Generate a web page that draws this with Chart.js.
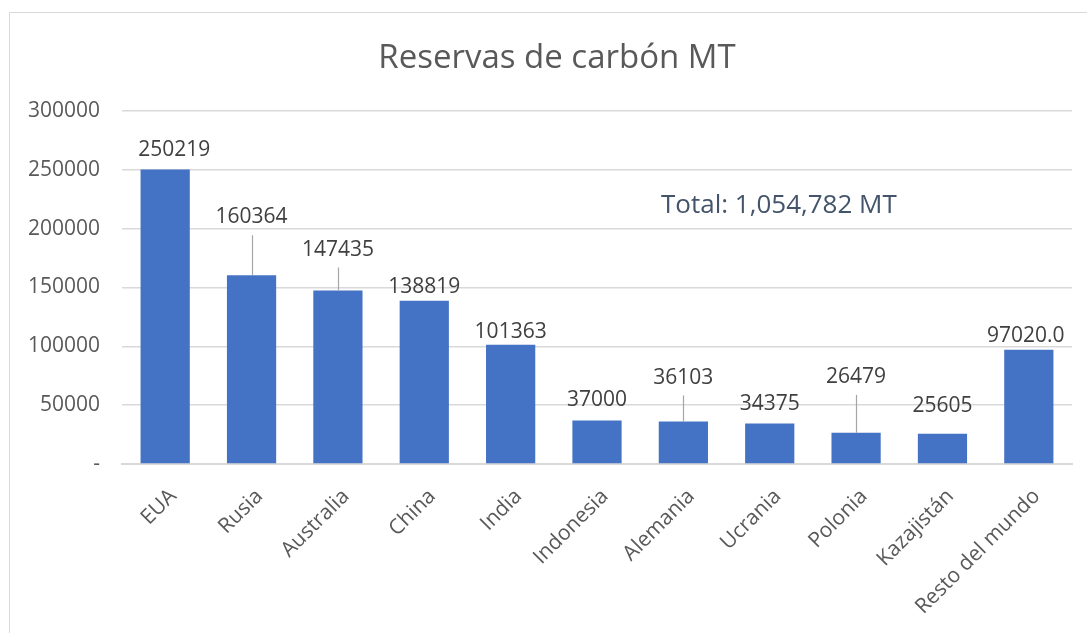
<!DOCTYPE html>
<html>
<head>
<meta charset="utf-8">
<script src="https://cdn.jsdelivr.net/npm/chart.js@4.4.1/dist/chart.umd.min.js"></script>
<style>
  html, body { margin: 0; padding: 0; background: #ffffff; }
  #wrap { width: 1087px; height: 633px; position: relative; }
</style>
</head>
<body>
<div id="wrap"><canvas id="c" width="1087" height="633"></canvas></div>
<script>
// ---- data ----
const categories = ["EUA", "Rusia", "Australia", "China", "India", "Indonesia", "Alemania", "Ucrania", "Polonia", "Kazajistán", "Resto del mundo"];
const reserves = [250219, 160364, 147435, 138819, 101363, 37000, 36103, 34375, 26479, 25605, 97020.0];
const labelDecimals = [0, 0, 0, 0, 0, 0, 0, 0, 0, 0, 1];
const yTicks = [0, 50000, 100000, 150000, 200000, 250000, 300000];
const chartTitle = "Reservas de carbón MT";
const totalNote = "Total: 1,054,782 MT";

// ---- label layout (pixel nudges of the data labels, and which labels have leader lines) ----
const labelLift = [20, 58, 41, 14, 13, 20, 44, 20, 56, 28, 14];
const labelNudgeX = [9, 0, 0, 0, 0, 0, 0, 0, 0, 0, -3];
const leaderLines = [false, true, true, false, false, false, true, false, true, false, false];

const FONT = "'Open Sans', 'DejaVu Sans', sans-serif";

const decor = {
  id: 'decor',
  beforeDraw(chart) {
    const ctx = chart.ctx;
    ctx.save();
    ctx.strokeStyle = '#D9D9D9';
    ctx.lineWidth = 1;
    ctx.beginPath();
    ctx.moveTo(9.5, 640);
    ctx.lineTo(9.5, 12.5);
    ctx.lineTo(1100, 12.5);
    ctx.stroke();
    // title
    ctx.font = "33px " + FONT;
    ctx.fillStyle = '#595959';
    ctx.textAlign = 'center';
    ctx.textBaseline = 'alphabetic';
    ctx.fillText(chartTitle, 557, 68);
    ctx.restore();
  },
  afterDatasetsDraw(chart) {
    const ctx = chart.ctx;
    const meta = chart.getDatasetMeta(0);
    ctx.save();
    ctx.font = "21px " + FONT;
    ctx.fillStyle = '#404040';
    ctx.textAlign = 'center';
    ctx.textBaseline = 'middle';
    meta.data.forEach((bar, i) => {
      const cy = bar.y - labelLift[i];
      ctx.fillText(reserves[i].toFixed(labelDecimals[i]), bar.x + labelNudgeX[i], cy);
      if (leaderLines[i]) {
        ctx.strokeStyle = '#A6A6A6';
        ctx.lineWidth = 1.2;
        ctx.beginPath();
        ctx.moveTo(Math.round(bar.x) + 0.5, cy + 18);
        ctx.lineTo(Math.round(bar.x) + 0.5, bar.y);
        ctx.stroke();
      }
    });
    // total note
    ctx.font = "26px " + FONT;
    ctx.fillStyle = '#44546A';
    ctx.textAlign = 'left';
    ctx.fillText(totalNote, 661, 206);
    ctx.restore();
  }
};

new Chart(document.getElementById('c'), {
  type: 'bar',
  data: {
    labels: categories,
    datasets: [{
      data: reserves,
      backgroundColor: '#4472C4',
      borderWidth: 0,
      categoryPercentage: 1.0,
      barPercentage: 0.57
    }]
  },
  options: {
    responsive: false,
    animation: false,
    devicePixelRatio: 1,
    layout: { padding: { left: 0, right: 15, top: 111, bottom: 0 } },
    plugins: {
      legend: { display: false },
      tooltip: { enabled: false },
      title: { display: false }
    },
    scales: {
      y: {
        min: 0,
        max: 300000,
        afterBuildTicks(scale) { scale.ticks = yTicks.map(v => ({ value: v })); },
        afterFit(scale) { scale.width = 122; },
        ticks: {
          color: '#595959',
          font: { family: FONT, size: 21 },
          padding: 22,
          callback: v => v === 0 ? '-' : String(v)
        },
        grid: { color: '#D9D9D9', lineWidth: 1.5, drawTicks: false },
        border: { display: false }
      },
      x: {
        afterFit(scale) { scale.height = 169; },
        ticks: {
          color: '#595959',
          font: { family: FONT, size: 21 },
          minRotation: 45,
          maxRotation: 45,
          padding: 20,
          labelOffset: 8,
          autoSkip: false
        },
        grid: { display: false, drawTicks: false },
        border: { display: true, color: '#D9D9D9', width: 2 }
      }
    }
  },
  plugins: [decor]
});
</script>
</body>
</html>
